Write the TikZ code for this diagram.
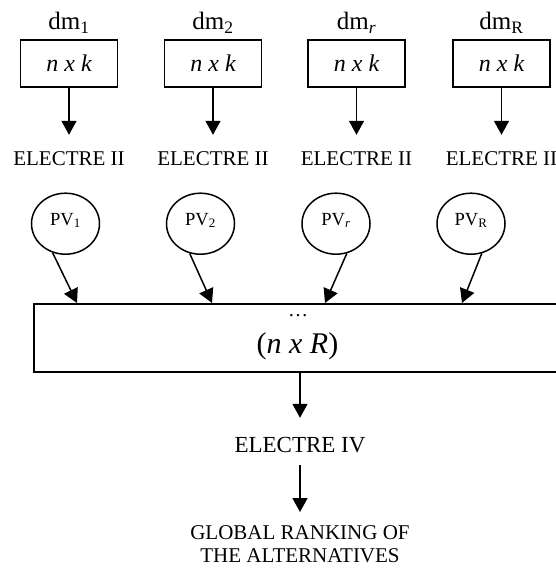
\documentclass[tikz,border=0pt]{standalone}
\usepackage{fontspec}
\setmainfont{Liberation Serif}
\usetikzlibrary{arrows.meta,calc,shapes.geometric}
\begin{document}
\begin{tikzpicture}[x=1pt,y=-1pt,
  conn/.style={line width=1.5pt,-{Triangle[length=14pt,width=15pt]}},
  matbox/.style={draw,line width=1.5pt,minimum width=97pt,minimum height=47pt,
    inner sep=0pt,font=\fontsize{24}{28}\selectfont\itshape},
  dmlab/.style={anchor=base,inner sep=0pt,font=\fontsize{25}{30}\selectfont},
  method/.style={anchor=base,inner xsep=0pt,inner ysep=16.5pt,text height=14pt,
    text depth=0pt,font=\fontsize{21}{25}\selectfont},
  pvnode/.style={draw,ellipse,line width=1.5pt,minimum width=68pt,minimum height=61pt,
    inner sep=0pt,text height=12pt,text depth=9pt,font=\fontsize{18.5}{22}\selectfont},
  bigbox/.style={draw,line width=1.5pt,anchor=north west,minimum width=570pt,
    minimum height=68pt,inner sep=0pt},
]
\useasboundingbox (0,0) rectangle (556,568);
\clip (0,0) rectangle (556,568);

% decision makers and their n x k matrices
\node[dmlab] (dm1) at (69,29.3) {dm\textsubscript{1}};
\node[dmlab] (dm2) at (213,29.3) {dm\textsubscript{2}};
\node[dmlab] (dm3) at (356.5,29.3) {dm\textsubscript{\itshape r}};
\node[dmlab] (dm4) at (501.5,29.3) {dm\textsubscript{R}};

\node[matbox] (nx1) at (69,63.5) {n x k};
\node[matbox] (nx2) at (213,63.5) {n x k};
\node[matbox] (nx3) at (356.5,63.5) {n x k};
\node[matbox] (nx4) at (501.5,63.5) {n x k};

% individual ELECTRE II runs
\node[method] (el1) at (69,165.5) {ELECTRE II};
\node[method] (el2) at (213,165.5) {ELECTRE II};
\node[method] (el3) at (356.5,165.5) {ELECTRE II};
\node[method] (el4) at (501.5,165.5) {ELECTRE II};

\foreach \i in {1,...,4} \draw[conn] (nx\i.south) -- (el\i.north);

% preference vectors
\node[pvnode] (pv1) at (65.5,223.7) {PV\textsubscript{1}};
\node[pvnode] (pv2) at (200.5,223.7) {PV\textsubscript{2}};
\node[pvnode] (pv3) at (336,223.7) {PV\textsubscript{\itshape r}};
\node[pvnode] (pv4) at (471,223.7) {PV\textsubscript{R}};

% aggregated n x R matrix
\node[bigbox] (big) at (33,303) {};
\node[anchor=base,inner sep=0pt,font=\fontsize{20}{24}\selectfont] (dots) at (298,316.5) {…};
\node[anchor=base,inner sep=0pt,font=\fontsize{30}{35}\selectfont] (nxr) at (297.5,353.3) {(\textit{n x R})};

\draw[conn] (pv1.246) -- ($(big.north west)+(44,0)$);
\draw[conn] (pv2.250) -- ($(big.north west)+(179,0)$);
\draw[conn] (pv3.290) -- ($(big.north west)+(292,0)$);
\draw[conn] (pv4.290) -- ($(big.north west)+(429,0)$);

% collective ranking
\node[anchor=base,inner xsep=0pt,inner ysep=12.7pt,text height=21.6pt,text depth=0pt,
  font=\fontsize{23}{27}\selectfont] (e4) at (300,452.3) {ELECTRE IV};
\node[anchor=north,align=center,inner sep=0pt,
  font=\fontsize{21}{23.5}\selectfont] (glob) at (300,525) {GLOBAL RANKING OF\\THE ALTERNATIVES};

\draw[conn] (big.south -| e4.north) -- (e4.north);
\draw[conn,shorten >=13pt] (e4.south) -- (glob.north);
\end{tikzpicture}
\end{document}
